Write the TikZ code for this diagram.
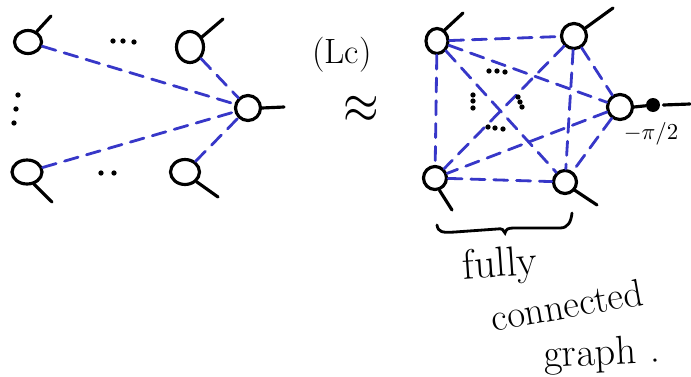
\documentclass[tikz,border=0pt]{standalone}
\usepackage{fontspec}
\usetikzlibrary{shapes.geometric}
\definecolor{penblue}{RGB}{55,55,200}
\begin{document}
\begin{tikzpicture}[x=0.02cm,y=-0.02cm,
  vert/.style={draw=black, line width=1.8pt, ellipse, inner sep=0pt},
  stem/.style={line width=1.8pt, line cap=round},
  edge/.style={draw=penblue, line width=1.6pt, dash pattern=on 8pt off 5pt, line cap=round},
  pt/.style={fill=black, circle, inner sep=0pt, minimum size=3pt},
  hand/.style={inner sep=0pt}]
\useasboundingbox (0,0) rectangle (691,376);
% ---------- left graph ----------
\node[vert, minimum width=0.54cm, minimum height=0.46cm] (A1) at (28,42) {};
\node[vert, minimum width=0.54cm, minimum height=0.62cm] (A2) at (190,47) {};
\node[vert, minimum width=0.5cm, minimum height=0.5cm] (A3) at (248,108) {};
\node[vert, minimum width=0.6cm, minimum height=0.48cm] (A4) at (27,172) {};
\node[vert, minimum width=0.58cm, minimum height=0.5cm] (A5) at (185,172) {};
\coordinate (a1s) at (51,16);
\coordinate (a2s) at (223,19);
\coordinate (a3s) at (284,107);
\coordinate (a4s) at (52,202);
\coordinate (a5s) at (218,197);
\draw[stem] (A1.50) -- (a1s);
\draw[stem] (A2.40) -- (a2s);
\draw[stem] (A3.east) -- (a3s);
\draw[stem] (A4.-60) -- (a4s);
\draw[stem] (A5.-40) -- (a5s);
\draw[edge] (A1) -- (A3);
\draw[edge] (A2) -- (A3);
\draw[edge] (A4) -- (A3);
\draw[edge] (A5) -- (A3);
\foreach \x/\y [count=\i] in {113/41,123/41,134/42, 101/173,114/173, 18/95,16/109,14/123}
  \node[pt] (ld\i) at (\x,\y) {};
% ---------- middle ----------
\node[font=\fontsize{20}{24}\selectfont, inner sep=0pt] (lc) at (342,55) {(Lc)};
\node[inner sep=0pt] (approx) at (361,110) {\scalebox{2.6}[3.2]{$\approx$}};
% ---------- right graph ----------
\node[vert, minimum width=0.44cm, minimum height=0.5cm] (B1) at (437,41) {};
\node[vert, minimum width=0.5cm, minimum height=0.5cm] (B2) at (574,36) {};
\node[vert, minimum width=0.5cm, minimum height=0.5cm] (B3) at (620,107) {};
\node[vert, minimum width=0.46cm, minimum height=0.46cm] (B4) at (435,178) {};
\node[vert, minimum width=0.46cm, minimum height=0.46cm] (B5) at (565,182) {};
\coordinate (b1s) at (463,13);
\coordinate (b2s) at (613,8);
\coordinate (b4s) at (452,210);
\coordinate (b5s) at (597,205);
\coordinate (b3s) at (690,104);
\node[fill=black, circle, inner sep=0pt, minimum size=0.28cm] (ph) at (653,105) {};
\draw[stem] (B1.55) -- (b1s);
\draw[stem] (B2.35) -- (b2s);
\draw[stem] (B4.-70) -- (b4s);
\draw[stem] (B5.-40) -- (b5s);
\draw[stem] (B3.east) -- (ph);
\draw[stem] (ph.east) ++(3,0) coordinate (phr) (phr) -- (b3s);
\node[inner sep=0pt] (phase) at (651,134) {\scalebox{1.3}{$-\pi/2$}};
\foreach \a/\b in {B1/B2,B1/B3,B1/B4,B1/B5,B2/B3,B2/B4,B2/B5,B3/B4,B3/B5,B4/B5}
  \draw[edge] (\a) -- (\b);
\foreach \x/\y [count=\i] in {489/71,497/71,505/72, 473/95,473/101,473/108, 518/97,520/102,522/107, 488/127,495/128,503/129}
  \node[pt] (rd\i) at (\x,\y) {};
% brace
\draw[line width=1.6pt, line cap=round] (437,225) .. controls (438,232) and (442,233) .. (455,232)
  -- (497,229) .. controls (502,228) and (504,230) .. (505,233)
  .. controls (506,229) and (508,228) .. (514,228) -- (560,228)
  .. controls (568,228) and (571,222) .. (572,213);
\node[hand, font=\fontsize{24}{28}\selectfont, rotate=4] (t1) at (500,266) {fully};
\node[hand, font=\fontsize{22}{26}\selectfont, rotate=10] (t2) at (567,305) {connected};
\node[hand, font=\fontsize{23}{27}\selectfont, rotate=3] (t3) at (602,355) {graph\,\,.};
\end{tikzpicture}
\end{document}
